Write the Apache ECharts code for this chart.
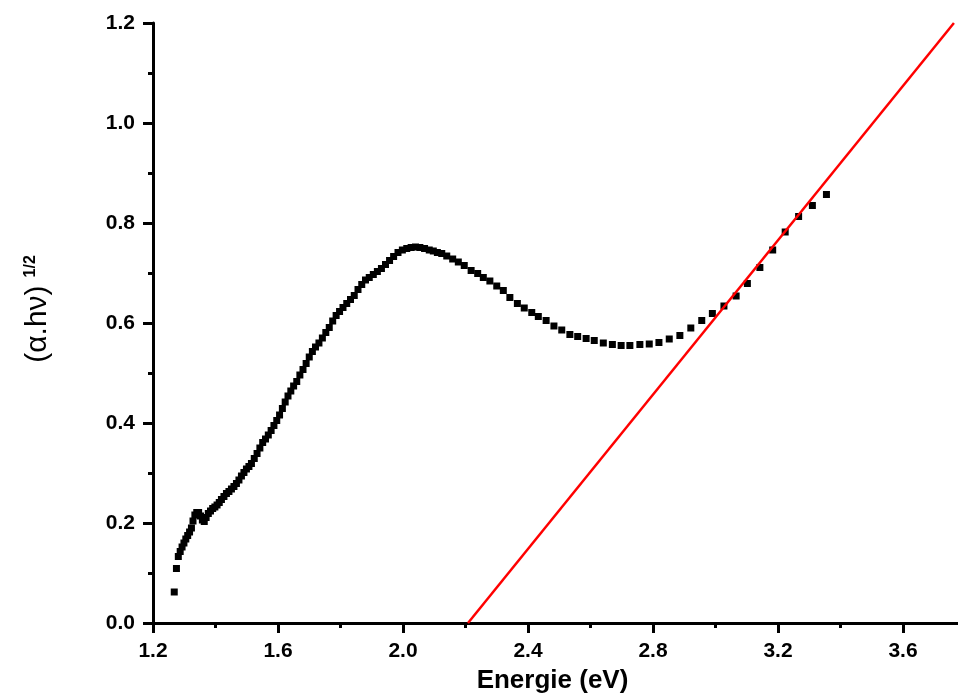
<!DOCTYPE html>
<html>
<head>
<meta charset="utf-8">
<script src="https://cdn.jsdelivr.net/npm/echarts@6/dist/echarts.min.js"></script>
<style>html,body{margin:0;padding:0;background:#fff}#c{width:958px;height:697px}</style>
</head>
<body>
<div id="c"></div>
<script>
// Energy (eV) of measured points
const energy = [1.268,1.275,1.281,1.287,1.293,1.299,1.305,1.311,1.317,1.323,1.328,1.334,1.340,1.346,1.352,1.358,1.364,1.370,1.377,1.384,1.391,1.398,1.405,1.412,1.419,1.427,1.435,1.443,1.451,1.459,1.467,1.475,1.483,1.491,1.499,1.507,1.515,1.524,1.533,1.542,1.551,1.560,1.569,1.578,1.587,1.596,1.605,1.614,1.623,1.632,1.641,1.650,1.660,1.670,1.680,1.690,1.700,1.710,1.720,1.731,1.742,1.753,1.764,1.775,1.786,1.797,1.808,1.820,1.832,1.844,1.856,1.868,1.880,1.892,1.905,1.918,1.931,1.944,1.957,1.970,1.984,1.998,2.012,2.026,2.040,2.054,2.069,2.084,2.097,2.110,2.124,2.140,2.159,2.177,2.196,2.218,2.239,2.257,2.278,2.300,2.321,2.342,2.366,2.388,2.412,2.433,2.458,2.483,2.508,2.534,2.559,2.586,2.612,2.641,2.670,2.698,2.726,2.758,2.788,2.819,2.852,2.886,2.921,2.956,2.990,3.027,3.066,3.102,3.142,3.183,3.223,3.266,3.310,3.355];
// (alpha.h.nu)^(1/2) values
const sqrtAbs = [0.062,0.109,0.133,0.143,0.152,0.160,0.168,0.175,0.182,0.190,0.204,0.216,0.221,0.221,0.214,0.206,0.203,0.211,0.219,0.224,0.229,0.232,0.236,0.241,0.247,0.253,0.259,0.263,0.268,0.273,0.279,0.286,0.294,0.301,0.308,0.313,0.319,0.329,0.339,0.350,0.361,0.368,0.376,0.385,0.395,0.405,0.416,0.429,0.442,0.454,0.464,0.474,0.483,0.496,0.507,0.519,0.532,0.543,0.552,0.560,0.570,0.581,0.591,0.604,0.615,0.623,0.631,0.639,0.647,0.655,0.667,0.677,0.686,0.691,0.697,0.703,0.709,0.717,0.725,0.733,0.741,0.746,0.749,0.751,0.752,0.751,0.749,0.746,0.744,0.741,0.739,0.734,0.728,0.722,0.715,0.705,0.699,0.691,0.684,0.674,0.665,0.651,0.639,0.630,0.621,0.613,0.605,0.594,0.586,0.577,0.573,0.569,0.565,0.560,0.557,0.555,0.555,0.557,0.558,0.561,0.568,0.575,0.590,0.605,0.619,0.634,0.654,0.679,0.711,0.746,0.782,0.813,0.835,0.857];
// Linear fit (Tauc extrapolation) end points
const fitX = [2.208, 3.763];
const fitY = [0.0, 1.2];
// Axis ticks
const xTicks = {min: 1.2, max: 4.0, interval: 0.4};
const yTicks = {min: 0.0, max: 1.2, interval: 0.2};

const chart = echarts.init(document.getElementById('c'), null, {renderer: 'canvas'});
const FONT = '"Liberation Sans", Arial, sans-serif';
const axisCommon = {
  axisLine: {show: true, onZero: false, lineStyle: {color: '#000', width: 3}},
  axisTick: {show: true, inside: false, length: 10, lineStyle: {color: '#000', width: 3}},
  minorTick: {show: true, splitNumber: 2, length: 5, lineStyle: {color: '#000', width: 3}},
  splitLine: {show: false},
  minorSplitLine: {show: false}
};
chart.setOption({
  animation: false,
  backgroundColor: '#fff',
  grid: {left: 153, top: 23, width: 875, height: 600, containLabel: false, outerBoundsMode: 'none'},
  xAxis: Object.assign({
    type: 'value', min: xTicks.min, max: xTicks.max, interval: xTicks.interval,
    name: 'Energie (eV)', nameLocation: 'middle', nameGap: 45,
    nameTextStyle: {fontFamily: FONT, fontWeight: 'bold', fontSize: 26, color: '#000', padding: [0, 76, 0, 0]},
    axisLabel: {margin: 18, fontFamily: FONT, fontWeight: 'bold', fontSize: 21, color: '#000',
      formatter: v => v.toFixed(1)}
  }, axisCommon),
  yAxis: Object.assign({
    type: 'value', min: yTicks.min, max: yTicks.max, interval: yTicks.interval,
    name: '{a|(α.hν)}{s|1/2}', nameLocation: 'middle', nameRotate: 90, nameGap: 100,
    nameTextStyle: {
      rich: {
        a: {fontFamily: FONT, fontSize: 30, color: '#000', padding: [0, 0, 0, 28]},
        s: {fontFamily: FONT, fontSize: 16, fontWeight: 'bold', color: '#000', verticalAlign: 'top', padding: [0, 0, 0, 8]}
      }
    },
    axisLabel: {margin: 18, fontFamily: FONT, fontWeight: 'bold', fontSize: 21, color: '#000',
      formatter: v => v.toFixed(1)}
  }, axisCommon),
  series: [
    {
      type: 'scatter', symbol: 'rect', symbolSize: 7,
      itemStyle: {color: '#000', opacity: 1},
      data: energy.map((e, i) => [e, sqrtAbs[i]]),
      z: 2
    },
    {
      type: 'line', showSymbol: false, symbol: 'none',
      lineStyle: {color: '#ff0000', width: 2.5},
      data: fitX.map((x, i) => [x, fitY[i]]),
      z: 3
    }
  ]
});
</script>
</body>
</html>
